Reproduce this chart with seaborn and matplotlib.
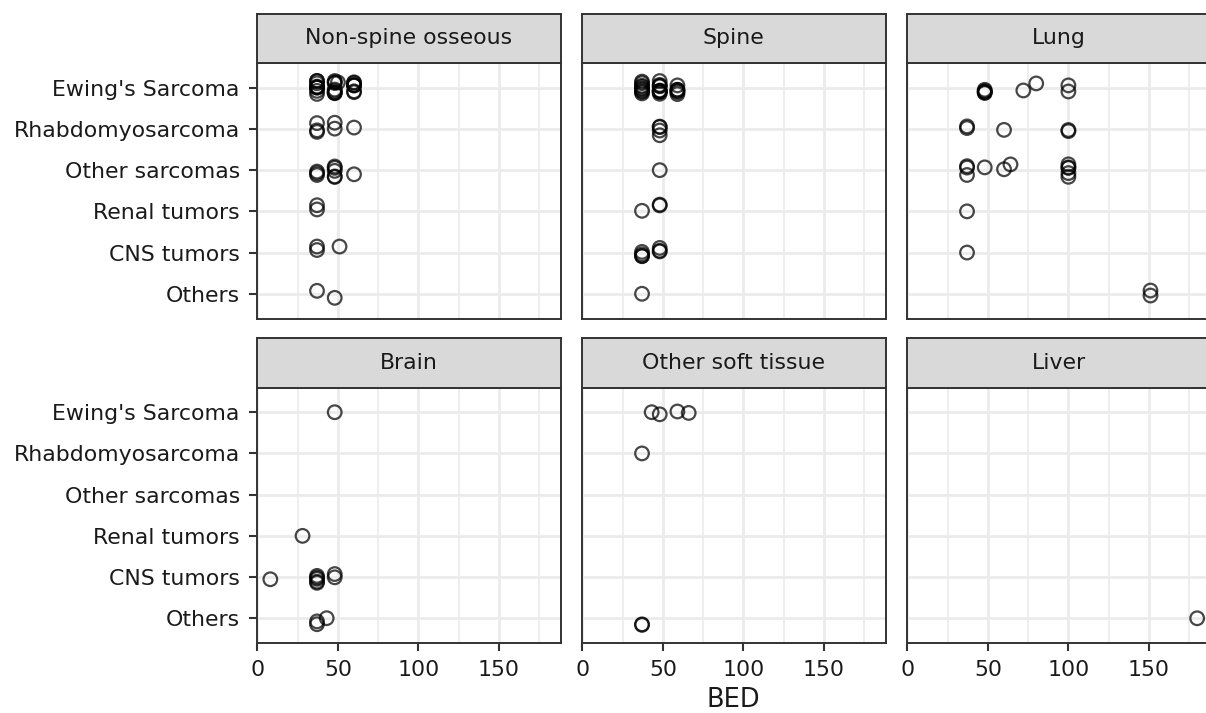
import numpy as np
import pandas as pd
import matplotlib
matplotlib.use("Agg")
import matplotlib.pyplot as plt
import seaborn as sns
from matplotlib.ticker import MultipleLocator, FixedLocator

# ---------------- data ----------------
sites = ["Non-spine osseous", "Spine", "Lung", "Brain", "Other soft tissue", "Liver"]
histologies = ["Ewing's Sarcoma", "Rhabdomyosarcoma", "Other sarcomas",
               "Renal tumors", "CNS tumors", "Others"]
x_ticks = [0, 50, 100, 150]

# per site: histology index, BED value, number of patients with that value
nso_hist = [0, 0, 0, 0, 1, 1, 1, 2, 2, 2, 3, 4, 4, 5, 5]
nso_bed = [37, 48, 50, 60, 37, 48, 60, 37, 48, 60, 37, 37, 51, 37, 48]
nso_n = [9, 8, 1, 7, 3, 2, 1, 3, 5, 1, 2, 2, 1, 1, 1]

spine_hist = [0, 0, 0, 1, 2, 3, 3, 4, 4, 5]
spine_bed = [37, 48, 59, 48, 48, 37, 48, 37, 48, 37]
spine_n = [9, 10, 6, 4, 1, 1, 2, 4, 3, 1]

lung_hist = [0, 0, 0, 0, 1, 1, 1, 2, 2, 2, 2, 2, 3, 4, 5]
lung_bed = [48, 72, 80, 100, 37, 60, 100, 37, 48, 60, 64, 100, 37, 37, 151]
lung_n = [5, 1, 1, 2, 2, 1, 2, 3, 1, 1, 1, 5, 1, 1, 2]

brain_hist = [0, 3, 4, 4, 4, 5, 5]
brain_bed = [48, 28, 8, 37, 48, 37, 43]
brain_n = [1, 1, 1, 5, 2, 2, 1]

ost_hist = [0, 0, 0, 0, 1, 5]
ost_bed = [43, 48, 59, 66, 37, 37]
ost_n = [1, 1, 1, 1, 1, 2]

liver_hist = [5]
liver_bed = [180]
liver_n = [1]

site_data = [
    (nso_hist, nso_bed, nso_n),
    (spine_hist, spine_bed, spine_n),
    (lung_hist, lung_bed, lung_n),
    (brain_hist, brain_bed, brain_n),
    (ost_hist, ost_bed, ost_n),
    (liver_hist, liver_bed, liver_n),
]

frames = []
for site, (h, b, n) in zip(sites, site_data):
    frames.append(pd.DataFrame({
        "site": site,
        "Histology": np.repeat([histologies[k] for k in h], n),
        "BED": np.repeat(b, n).astype(float),
    }))
df = pd.concat(frames, ignore_index=True)

# ---------------- style ----------------
sns.set_style("white")
plt.rcParams["font.family"] = ["DejaVu Sans"]

TXT = "#1A1A1A"
DARK = "#333333"
GRID = "#EBEBEB"

W, H = 1206, 713
fig = plt.figure(figsize=(W / 100, H / 100), dpi=100)

col_x = [256.5, 581.5, 906.5]
pw = 304.5
rows = [(13.5, 63.0, 318.5), (338.5, 387.5, 643.0)]

np.random.seed(11)
for i, site in enumerate(sites):
    r, c = divmod(i, 3)
    st, pt, pb = rows[r]
    x0 = col_x[c]
    ax = fig.add_axes([x0 / W, 1 - pb / H, pw / W, (pb - pt) / H])
    sax = fig.add_axes([x0 / W, 1 - pt / H, pw / W, (pt - st) / H])

    d = df[df["site"] == site]
    sns.stripplot(data=d, x="BED", y="Histology", order=histologies, orient="h",
                  jitter=0.17, size=9.8, color="black", linewidth=1.6, ax=ax,
                  zorder=3)
    for coll in ax.collections:
        coll.set_facecolor("none")
        coll.set_edgecolor((0, 0, 0, 0.72))
        coll.set_linewidth(1.6)

    ax.set_xlim(-0.6, 188.6)
    ax.set_ylim(5.6, -0.6)
    ax.xaxis.set_major_locator(FixedLocator(x_ticks))
    ax.xaxis.set_minor_locator(MultipleLocator(25))
    ax.set_yticks(range(len(histologies)))
    ax.set_yticklabels(histologies)
    ax.set_xlabel("")
    ax.set_ylabel("")
    ax.set_facecolor("white")
    ax.set_axisbelow(True)
    ax.grid(which="major", color=GRID, linewidth=2.0, zorder=0)
    ax.grid(which="minor", axis="x", color=GRID, linewidth=1.2, zorder=0)
    for sp in ax.spines.values():
        sp.set_visible(True)
        sp.set_color(DARK)
        sp.set_linewidth(1.4)
        sp.set_zorder(5)
    ax.tick_params(which="major", length=5.5, width=1.5, color=DARK,
                   labelsize=15.8, labelcolor=TXT, pad=6.5, left=True, bottom=True)
    ax.tick_params(which="minor", length=0)
    if r == 0:
        ax.tick_params(axis="x", bottom=False, labelbottom=False)
    if c != 0:
        ax.tick_params(axis="y", left=False, labelleft=False)

    sax.set_xticks([])
    sax.set_yticks([])
    sax.set_facecolor("#D9D9D9")
    for sp in sax.spines.values():
        sp.set_visible(True)
        sp.set_color(DARK)
        sp.set_linewidth(1.4)
    sax.text(0.5, 0.5, site, ha="center", va="center", transform=sax.transAxes,
             fontsize=15.8, color=TXT)

fig.text(733 / W, 1 - 700 / H, "BED", ha="center", va="center",
         fontsize=18.5, color=TXT)

fig.savefig("out.png", dpi=100, facecolor="white")
